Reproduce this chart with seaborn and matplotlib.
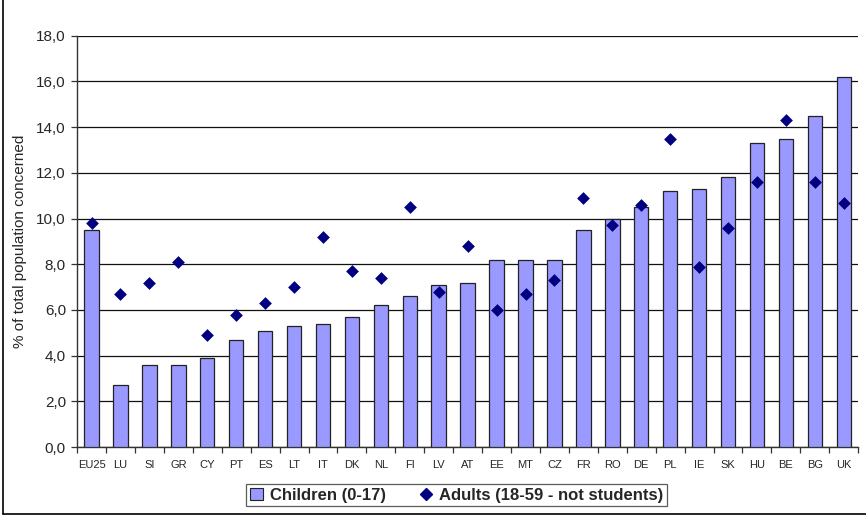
import matplotlib
matplotlib.use("Agg")
import matplotlib.pyplot as plt
import matplotlib.ticker as mticker
from matplotlib.lines import Line2D
from matplotlib.patches import Patch
import seaborn as sns
import pandas as pd
import numpy as np

countries = ["EU25", "LU", "SI", "GR", "CY", "PT", "ES", "LT", "IT", "DK", "NL", "FI", "LV", "AT",
             "EE", "MT", "CZ", "FR", "RO", "DE", "PL", "IE", "SK", "HU", "BE", "BG", "UK"]
children = [9.5, 2.7, 3.6, 3.6, 3.9, 4.7, 5.1, 5.3, 5.4, 5.7, 6.2, 6.6, 7.1, 7.2,
            8.2, 8.2, 8.2, 9.5, 10.0, 10.5, 11.2, 11.3, 11.8, 13.3, 13.5, 14.5, 16.2]
adults = [9.8, 6.7, 7.2, 8.1, 4.9, 5.8, 6.3, 7.0, 9.2, 7.7, 7.4, 10.5, 6.8, 8.8,
          6.0, 6.7, 7.3, 10.9, 9.7, 10.6, 13.5, 7.9, 9.6, 11.6, 14.3, 11.6, 10.7]
yticks = [0, 2, 4, 6, 8, 10, 12, 14, 16, 18]

df = pd.DataFrame({"country": countries, "children": children, "adults": adults})

sns.set_theme(style="white")
plt.rcParams["font.family"] = ["Liberation Sans", "DejaVu Sans"]

fig = plt.figure(figsize=(8.66, 5.18), dpi=100)
ax = fig.add_axes([0.089, 0.137, 0.902, 0.794])

sns.barplot(data=df, x="country", y="children", color="#9999FF", saturation=1,
            edgecolor="#222222", linewidth=0.9, width=0.5, ax=ax, zorder=3)
sns.stripplot(data=df, x="country", y="adults", marker="D", color="#000080", size=6.5,
              jitter=False, ax=ax, zorder=4, linewidth=0)

n = len(countries)
ax.set_xlim(-0.5, n - 0.5)
ax.set_ylim(0, 18)
ax.set_yticks(yticks)
ax.yaxis.set_major_formatter(mticker.FuncFormatter(lambda v, p: f"{v:.1f}".replace(".", ",")))
ax.grid(axis="y", color="#111111", linewidth=0.9, zorder=0)
ax.set_axisbelow(True)
for s in ["top", "right"]:
    ax.spines[s].set_visible(False)
for s in ["left", "bottom"]:
    ax.spines[s].set_color("#333333")
    ax.spines[s].set_linewidth(1.0)

ax.set_xlabel("")
ax.set_ylabel("% of total population concerned", fontsize=11, labelpad=7)
ax.tick_params(axis="y", labelsize=11, length=4, width=0.9, color="#333333", left=True, direction="out", pad=4)
ax.tick_params(axis="x", labelsize=8, length=0, pad=9)
ax.set_xticks(np.arange(-0.5, n, 1.0), minor=True)
ax.tick_params(axis="x", which="minor", length=4, width=0.9, color="#333333", bottom=True, direction="out")

handles = [Patch(facecolor="#9999FF", edgecolor="#222222", linewidth=0.8),
           Line2D([0], [0], marker="D", color="#000080", linestyle="none", markersize=6.5)]
leg = fig.legend(handles, ["Children (0-17)", "Adults (18-59 - not students)"],
                 loc="center", bbox_to_anchor=(0.527, 0.044), ncol=2, frameon=True,
                 fancybox=False, edgecolor="#333333", prop={"weight": "bold", "size": 12},
                 handlelength=0.8, handleheight=0.8, handletextpad=0.4, columnspacing=2.0,
                 borderpad=0.2)
leg.get_frame().set_linewidth(0.9)

fig.add_artist(Line2D([0.0035, 0.0035], [0.007, 1.0], transform=fig.transFigure, color="black", linewidth=1.2))
fig.add_artist(Line2D([0.0035, 1.0], [0.007, 0.007], transform=fig.transFigure, color="black", linewidth=1.2))

fig.savefig("out.png", dpi=100)
